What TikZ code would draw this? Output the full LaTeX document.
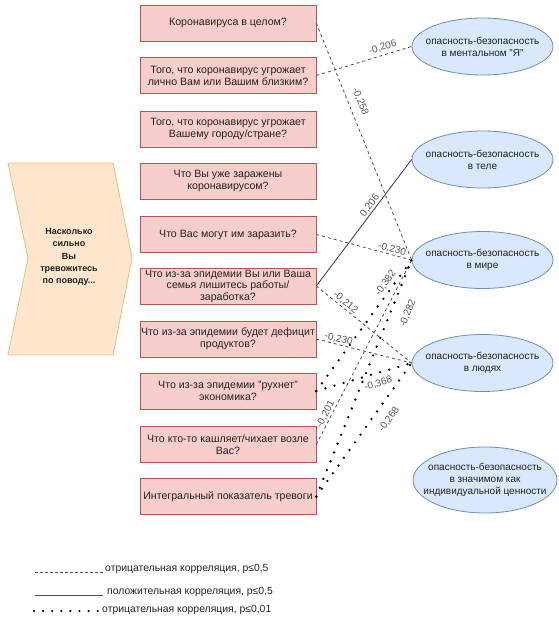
\documentclass[tikz,border=0pt]{standalone}
\usepackage{fontspec}
\setmainfont{Liberation Sans}
\usetikzlibrary{shapes.geometric}
\definecolor{boxfill}{HTML}{F8CECC}
\definecolor{boxline}{HTML}{B85450}
\definecolor{ellfill}{HTML}{DAE8FC}
\definecolor{ellline}{HTML}{6C8EBF}
\definecolor{chevfill}{HTML}{FFE6CC}
\definecolor{chevline}{HTML}{E3C27E}
\definecolor{txt}{HTML}{222222}
\definecolor{lbl}{HTML}{555555}
\definecolor{conn}{HTML}{4D4D4D}
\begin{document}
\begin{tikzpicture}[x=1pt,y=-1pt,
  qbox/.style={draw=boxline,fill=boxfill,line width=0.6pt,minimum width=176pt,minimum height=36pt,
    inner sep=0pt,align=center,text=txt,font=\fontsize{10.6}{12}\selectfont},
  ell/.style={ellipse,draw=ellline,fill=ellfill,line width=0.8pt,minimum width=141pt,minimum height=57pt,
    inner sep=0pt},
  elltext/.style={align=center,text=txt,font=\fontsize{10}{12}\selectfont,inner sep=0pt},
  negline/.style={draw=conn,line width=0.8pt,dash pattern=on 3pt off 3pt},
  posline/.style={draw=conn,line width=0.9pt},
  dotline/.style={draw=black,line width=2.6pt,line cap=round,dash pattern=on 0pt off 9.5pt},
  lab/.style={sloped,text=lbl,font=\fontsize{10}{11}\selectfont,inner sep=1pt},
  legtext/.style={anchor=west,text=txt,font=\fontsize{10.4}{11}\selectfont,inner sep=0pt}]
\useasboundingbox (0,0) rectangle (558,624);
\fill[white] (0,0) rectangle (558,624);

% chevron
\draw[draw=chevline,fill=chevfill,line width=0.8pt] (8,163) -- (113,163) -- (132,258) -- (113,355) -- (8,355) -- (28,258) -- cycle;
\node[align=center,text=txt,font=\bfseries\fontsize{9}{12.2}\selectfont] (q) at (69,257)
  {Насколько\\сильно\\Вы\\тревожитесь\\по поводу...};

% question boxes
\node[qbox] (b1) at (228,23) {Коронавируса в целом?};
\node[qbox] (b2) at (228,75.5) {Того, что коронавирус угрожает\\лично Вам или Вашим близким?};
\node[qbox] (b3) at (228,129) {Того, что коронавирус угрожает\\Вашему городу/стране?};
\node[qbox] (b4) at (228,181) {Что Вы уже заражены\\коронавирусом?};
\node[qbox] (b5) at (228,234.5) {Что Вас могут им заразить?};
\node[qbox,font=\fontsize{10.6}{11.5}\selectfont] (b6) at (228,286) {Что из-за эпидемии Вы или Ваша\\семья лишитесь работы/\\заработка?};
\node[qbox] (b7) at (228,339) {Что из-за эпидемии будет дефицит\\продуктов?};
\node[qbox] (b8) at (228,391) {Что из-за эпидемии "рухнет"\\экономика?};
\node[qbox] (b9) at (228,444.5) {Что кто-то кашляет/чихает возле\\Вас?};
\node[qbox] (b10) at (228,496.5) {Интегральный показатель тревоги};

% ellipses
\node[ell] (e1) at (482.5,46.5) {};
\node[elltext] (e1t) at (e1) {опасность-безопасность\\в ментальном "Я"};
\node[ell] (e2) at (482.5,159.5) {};
\node[elltext] (e2t) at (e2) {опасность-безопасность\\в теле};
\node[ell] (e3) at (482.5,260) {};
\node[elltext] (e3t) at (e3) {опасность-безопасность\\в мире};
\node[ell] (e4) at (482.5,363) {};
\node[elltext] (e4t) at (e4) {опасность-безопасность\\в людях};
\node[ell,minimum width=144pt,minimum height=66pt] (e5) at (485,480) {};
\node[elltext] (e5t) at (e5) {опасность-безопасность\\в значимом как\\индивидуальной ценности};

% connectors
\draw[negline] (b1.east) -- node[lab,above=6pt,pos=0.35] {-0,258} (e3.west);
\draw[negline] (b2.east) -- node[lab,above=2pt,pos=0.72] {-0,206} (e1.west);
\draw[posline] (b6.east) -- node[lab,above,pos=0.61] {0,206} (e2.west);
\draw[negline] (b5.east) -- node[lab,above,pos=0.78] {-0,230} (e3.west);
\draw[negline] (b6.east) -- node[lab,above,pos=0.27] {-0,212} (e4.west);
\draw[negline] (b7.east) -- node[lab,above,pos=0.22] {-0,230} (e4.west);
\draw[negline] (b9.east) -- node[lab,above,pos=0.15] {-0,201} (e3.west);
\draw[dotline] (b8.east) -- node[lab,above=1pt,pos=0.79] {-0,382} (e3.west);
\draw[dotline] (b10.east) -- node[lab,below=10pt,pos=0.8] {-0,282} (e3.west);
\draw[dotline] (b8.east) -- node[lab,below=4pt,pos=0.62] {-0,368} (e4.west);
\draw[dotline] (b10.east) -- node[lab,below=8pt,pos=0.64] {-0,268} (e4.west);

% legend
\coordinate (l1a) at (35,572);
\coordinate (l1b) at (105,572);
\draw[draw=conn,line width=0.7pt,dash pattern=on 3pt off 2pt] (l1a) -- (l1b);
\node[legtext] (t1) at (105,569) {отрицательная корреляция, p≤0,5};
\coordinate (l2a) at (35,595);
\coordinate (l2b) at (103,595);
\draw[draw=conn,line width=0.9pt] (l2a) -- (l2b);
\node[legtext] (t2) at (107,592) {положительная корреляция, p≤0,5};
\coordinate (l3a) at (34,611);
\coordinate (l3b) at (98,611);
\draw[draw=black,line width=2.4pt,line cap=round,dash pattern=on 0pt off 9.1pt] (l3a) -- (l3b);
\node[legtext] (t3) at (102,610) {отрицательная корреляция, p≤0,01};
\end{tikzpicture}
\end{document}
